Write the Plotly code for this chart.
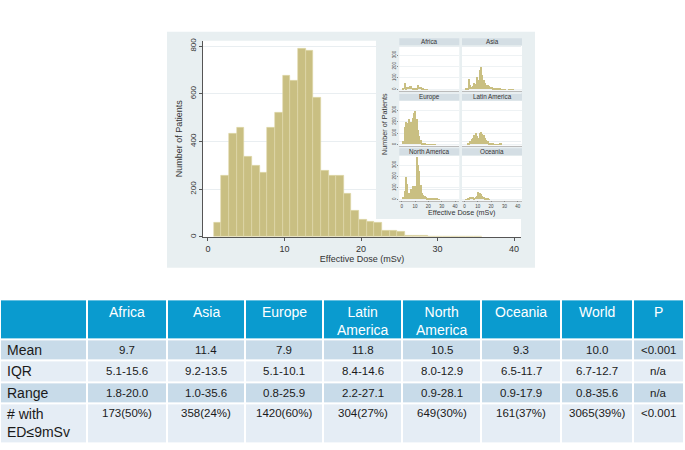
import plotly.graph_objects as go

# ---- main histogram (all patients), 1 mSv bins starting at 0.75 ----
main_bin_lo = 0.75
main_counts = [61, 256, 435, 458, 336, 297, 270, 459, 519, 675, 657, 789, 782,
               584, 276, 255, 255, 183, 111, 72, 65, 58, 26, 26, 24, 6, 5, 4,
               0, 0, 0, 0, 3, 1, 3]

# ---- inset histograms by region, 1 mSv bins starting at 0 ----
africa_counts = [0, 5, 60, 15, 20, 22, 28, 30, 12, 15, 8, 15, 38, 25, 20, 12, 8, 4, 3, 2]
asia_counts = [0, 8, 15, 95, 40, 25, 30, 60, 50, 110, 80, 170, 195, 130, 85, 55, 40,
               40, 30, 25, 20, 15, 10, 8, 6, 5, 5, 4, 3, 2, 2, 0, 0, 2, 4, 4, 2]
europe_counts = [0, 30, 150, 200, 185, 220, 150, 200, 235, 275, 295, 225, 125, 70,
                 35, 15, 10, 6, 4, 3, 3, 2, 2, 2, 1, 1]
latin_counts = [0, 0, 5, 15, 30, 45, 55, 80, 100, 75, 55, 100, 110, 95, 80, 55, 40,
                30, 15, 10, 8, 5, 3, 2, 2, 3, 5, 5]
north_am_counts = [0, 20, 70, 195, 135, 60, 20, 90, 115, 60, 120, 370, 305, 245, 130,
                   60, 40, 30, 22, 15, 10, 6, 5, 5, 12, 15, 6, 3, 2]
oceania_counts = [0, 3, 8, 12, 18, 25, 20, 15, 25, 30, 65, 60, 45, 30, 20, 12, 8, 5, 3]

inset_names = ['Africa', 'Asia', 'Europe', 'Latin America', 'North America', 'Oceania']
inset_series = [africa_counts, asia_counts, europe_counts, latin_counts,
                north_am_counts, oceania_counts]

# ---- table ----
table_header = ['', 'Africa', 'Asia', 'Europe', 'Latin<br>America', 'North<br>America',
                'Oceania', 'World', 'P']
row_labels = ['Mean', 'IQR', 'Range', '# with<br>ED≤9mSv']
mean_vals = ['9.7', '11.4', '7.9', '11.8', '10.5', '9.3', '10.0', '<0.001']
iqr_vals = ['5.1-15.6', '9.2-13.5', '5.1-10.1', '8.4-14.6', '8.0-12.9', '6.5-11.7', '6.7-12.7', 'n/a']
range_vals = ['1.8-20.0', '1.0-35.6', '0.8-25.9', '2.2-27.1', '0.9-28.1', '0.9-17.9', '0.8-35.6', 'n/a']
ed9_vals = ['173(50%)', '358(24%)', '1420(60%)', '304(27%)', '649(30%)', '161(37%)', '3065(39%)', '<0.001']

W, H = 685, 450
BAR = '#c9bf82'
BAR_EDGE = '#e0d9aa'
PANEL = '#e8eff1'
STRIP = '#d4dee4'
FONT = 'Liberation Sans, Arial, sans-serif'


def fx(x):
    return x / W


def fy(y):
    return 1 - y / H


fig = go.Figure()

# main histogram
fig.add_trace(go.Bar(
    x=[main_bin_lo + i + 0.5 for i in range(len(main_counts))], y=main_counts,
    width=1, marker=dict(color=BAR, line=dict(color=BAR_EDGE, width=0.6)),
    xaxis='x', yaxis='y', hoverinfo='x+y',
))

# inset panels: 3 rows x 2 cols
col_dom = [(399.3, 459.3), (462.0, 522.0)]
row_dom = [(43.3, 88.3), (99.0, 144.0), (154.3, 199.3)]
strip_h = 7.2

shapes = [
    dict(type='rect', xref='paper', yref='paper', layer='below', line_width=0,
         x0=fx(167), x1=fx(535), y0=fy(267), y1=fy(29), fillcolor=PANEL),
    dict(type='rect', xref='paper', yref='paper', layer='below', line_width=0,
         x0=fx(203), x1=fx(521), y0=fy(236), y1=fy(38), fillcolor='white'),
    dict(type='rect', xref='paper', yref='paper', layer='below', line_width=0,
         x0=fx(376), x1=fx(535), y0=fy(218), y1=fy(33), fillcolor=PANEL),
]
annotations = []

axes = {}
for k, (name, counts) in enumerate(zip(inset_names, inset_series)):
    n = k + 2
    r, c = divmod(k, 2)
    x0, x1 = col_dom[c]
    y0, y1 = row_dom[r]
    fig.add_trace(go.Bar(
        x=[i + 0.5 for i in range(len(counts))], y=counts, width=1,
        marker=dict(color=BAR, line=dict(width=0)),
        xaxis=f'x{n}', yaxis=f'y{n}', hoverinfo='x+y',
    ))
    bottom = r == 2
    left = c == 0
    axes[f'xaxis{n}'] = dict(
        domain=[fx(x0), fx(x1)], anchor=f'y{n}', range=[-1.8, 43.2],
        tickvals=[0, 10, 20, 30, 40], showticklabels=bottom,
        ticks='outside' if bottom else '', ticklen=1, tickcolor='#888',
        tickfont=dict(size=4.5, color='#444'), showgrid=False, zeroline=False,
        showline=True, linecolor='#bbbbbb', linewidth=0.5, fixedrange=True,
    )
    axes[f'yaxis{n}'] = dict(
        domain=[fy(y1), fy(y0)], anchor=f'x{n}', range=[-10, 380],
        tickvals=[0, 100, 200, 300], showticklabels=left, tickangle=-90,
        ticks='outside' if left else '', ticklen=1, tickcolor='#888',
        tickfont=dict(size=4.5, color='#444'), showgrid=True, gridcolor='#eef2f4',
        gridwidth=0.5, zeroline=False, showline=False, fixedrange=True,
    )
    shapes.append(dict(type='rect', xref='paper', yref='paper', layer='below', line_width=0,
                       x0=fx(x0), x1=fx(x1), y0=fy(y0 - 0.6), y1=fy(y0 - 0.6 - strip_h),
                       fillcolor=STRIP))
    shapes.append(dict(type='rect', xref='paper', yref='paper', layer='below', line_width=0,
                       x0=fx(x0), x1=fx(x1), y0=fy(y1), y1=fy(y0), fillcolor='white'))
    annotations.append(dict(text=name, xref='paper', yref='paper', showarrow=False,
                            x=fx((x0 + x1) / 2), y=fy(y0 - 0.6 - strip_h / 2),
                            xanchor='center', yanchor='middle',
                            font=dict(size=6.3, color='#333')))

annotations.append(dict(text='Number of Patients', xref='paper', yref='paper', showarrow=False,
                        x=fx(385), y=fy(122), textangle=-90, xanchor='center', yanchor='middle',
                        font=dict(size=7.2, color='#333')))
annotations.append(dict(text='Effective Dose (mSv)', xref='paper', yref='paper', showarrow=False,
                        x=fx(461), y=fy(211.5), xanchor='center', yanchor='middle',
                        font=dict(size=7.2, color='#333')))

# ---- table: cell fills as a heatmap on a pixel-scaled axis, text as annotations ----
col_widths = [87, 80, 78, 78, 79, 79, 80, 72, 51]
row_heights = [40, 21.5, 22, 21.5, 40]
tbl_top = 299
col_edges = [0]
for w in col_widths:
    col_edges.append(col_edges[-1] + w)
row_edges = [tbl_top]
for h in row_heights:
    row_edges.append(row_edges[-1] + h)

# 2 = header, 1 = dark band, 0 = light band
row_style = [2, 1, 0, 1, 0]
fig.add_trace(go.Heatmap(
    x=col_edges, y=row_edges,
    z=[[s] * len(col_widths) for s in row_style],
    zmin=0, zmax=2, showscale=False, xgap=2, ygap=2, hoverinfo='skip',
    colorscale=[[0, '#e5edf5'], [0.5, '#c8dbe9'], [1, '#0a9bcf']],
    xaxis='x8', yaxis='y8',
))
axes['xaxis8'] = dict(domain=[0, 1], anchor='y8', range=[0, W], visible=False, fixedrange=True)
axes['yaxis8'] = dict(domain=[0, fy(290)], anchor='x8', range=[H, 290], visible=False,
                      fixedrange=True)

body_rows = [mean_vals, iqr_vals, range_vals, ed9_vals]
for j, label in enumerate(table_header):
    if not label:
        continue
    annotations.append(dict(text=label, xref='x8', yref='y8', showarrow=False,
                            x=(col_edges[j] + col_edges[j + 1]) / 2, y=row_edges[0] + 2.5,
                            xanchor='center', yanchor='top',
                            font=dict(size=14, color='white', family=FONT)))
for i, (label, vals) in enumerate(zip(row_labels, body_rows)):
    r0, r1 = row_edges[i + 1], row_edges[i + 2]
    tall = '<br>' in label
    yc = r0 + 10 if tall else (r0 + r1) / 2
    annotations.append(dict(text=label, xref='x8', yref='y8', showarrow=False,
                            x=5, y=r0 + 0.5 if tall else yc, xanchor='left', align='left',
                            yanchor='top' if tall else 'middle',
                            font=dict(size=14, color='#1a1a1a', family=FONT)))
    for j, v in enumerate(vals):
        annotations.append(dict(text=v, xref='x8', yref='y8', showarrow=False,
                                x=(col_edges[j + 1] + col_edges[j + 2]) / 2, y=yc,
                                xanchor='center', yanchor='middle',
                                font=dict(size=11.5, color='#1a1a1a', family=FONT)))

fig.update_layout(
    width=W, height=H, margin=dict(l=0, r=0, t=0, b=0),
    paper_bgcolor='white', plot_bgcolor='rgba(0,0,0,0)',
    showlegend=False, bargap=0, font=dict(family=FONT, color='#333'),
    shapes=shapes, annotations=annotations,
    xaxis=dict(domain=[fx(203), fx(521)], anchor='y', range=[-0.65, 40.9],
               tickvals=[0, 10, 20, 30, 40], ticks='outside', ticklen=3,
               tickcolor='#555', tickfont=dict(size=9, color='#333'),
               showline=True, linecolor='#555', linewidth=0.8,
               showgrid=False, zeroline=False,
               title=dict(text='Effective Dose (mSv)', font=dict(size=9, color='#333'), standoff=2)),
    yaxis=dict(domain=[fy(236), fy(38)], anchor='x', range=[0, 823],
               tickvals=[0, 200, 400, 600, 800], ticks='outside', ticklen=3,
               tickcolor='#555', tickangle=-90, tickfont=dict(size=8, color='#333'),
               showline=True, linecolor='#555', linewidth=0.8,
               showgrid=True, gridcolor='#e9eef1', zeroline=False,
               title=dict(text='Number of Patients', font=dict(size=9, color='#333'), standoff=4)),
    **axes,
)

fig.write_html('out.html', config={'displayModeBar': False},
               post_script="document.body.style.margin='0';")
